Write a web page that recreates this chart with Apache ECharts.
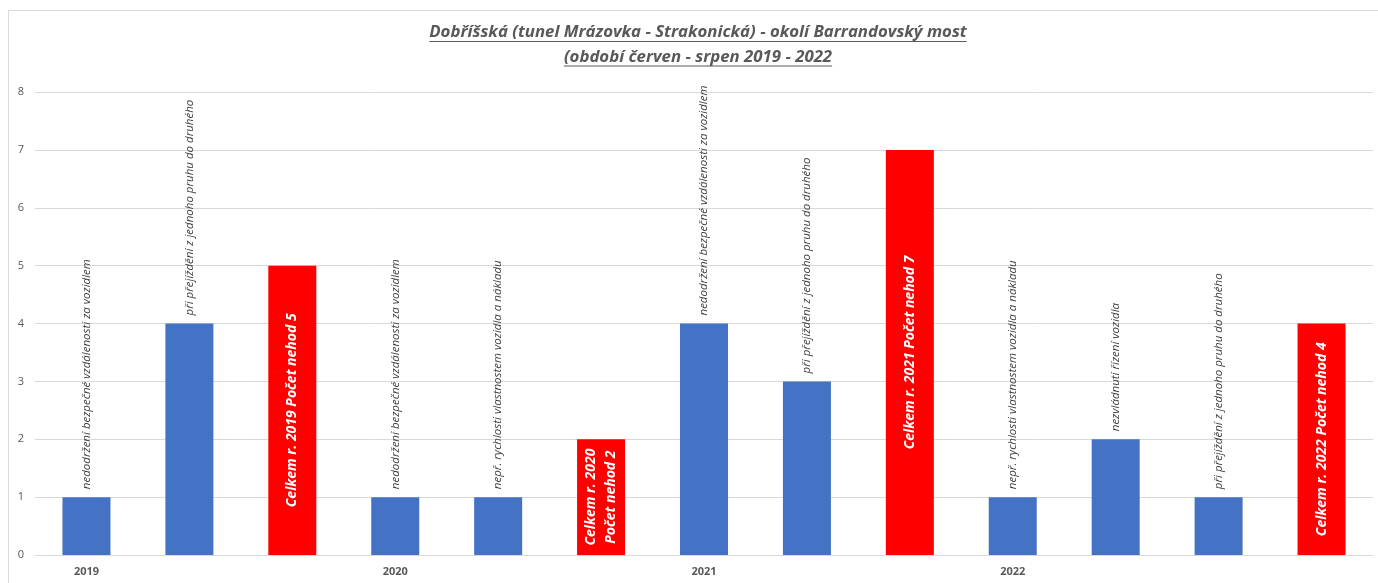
<!DOCTYPE html>
<html>
<head>
<meta charset="utf-8">
<script src="https://cdn.jsdelivr.net/npm/echarts@6/dist/echarts.min.js"></script>
<style>
html,body{margin:0;padding:0;background:#fff;}
#chart{width:1378px;height:583px;}
</style>
</head>
<body>
<div id="chart"></div>
<script>
const titleLines = ['Dobříšská (tunel Mrázovka - Strakonická) - okolí Barrandovský most', '(období červen - srpen 2019 - 2022'];
const yearLabels = ['2019','','','2020','','','2021','','','2022','','',''];
const values = [1,4,5,1,1,2,4,3,7,1,2,1,4];
const isTotal = [false,false,true,false,false,true,false,false,true,false,false,false,true];
const barLabels = [
  'nedodržení bezpečné vzdálenosti za vozidlem',
  'při přejíždění z jednoho pruhu do druhého',
  'Celkem r. 2019 Počet nehod 5',
  'nedodržení bezpečné vzdálenosti za vozidlem',
  'nepř. rychlosti vlastnostem vozidla a nákladu',
  'Celkem r. 2020\nPočet nehod 2',
  'nedodržení bezpečné vzdálenosti za vozidlem',
  'při přejíždění z jednoho pruhu do druhého',
  'Celkem r. 2021 Počet nehod 7',
  'nepř. rychlosti vlastnostem vozidla a nákladu',
  'nezvládnutí řízení vozidla',
  'při přejíždění z jednoho pruhu do druhého',
  'Celkem r. 2022 Počet nehod 4'
];

const FONT = '"Open Sans"';
const titleFontSize = 16.8;
const titleColor = '#595959';

function measure(text, font) {
  const c = document.createElement('canvas').getContext('2d');
  c.font = font;
  return c.measureText(text).width;
}

const chart = echarts.init(document.getElementById('chart'));

const titleCenters = [698, 698];
const titleYs = [32.5, 57];
const graphics = [{
  type: 'rect', silent: true,
  shape: {x: 8.5, y: 10.5, width: 1400, height: 600},
  style: {fill: 'none', stroke: '#d9d9d9', lineWidth: 1}
}];
titleLines.forEach((t, i) => {
  const font = 'italic bold ' + titleFontSize + 'px ' + FONT;
  const w = measure(t, font);
  graphics.push({
    type: 'text', silent: true,
    x: titleCenters[i], y: titleYs[i],
    style: {text: t, fill: titleColor, font: font, textAlign: 'center', textVerticalAlign: 'middle'}
  });
  graphics.push({
    type: 'line', silent: true,
    shape: {x1: titleCenters[i] - w / 2, y1: titleYs[i] + 9, x2: titleCenters[i] + w / 2, y2: titleYs[i] + 9},
    style: {stroke: titleColor, lineWidth: 1}
  });
});

const seriesData = values.map((v, i) => ({
  value: v,
  itemStyle: {color: isTotal[i] ? '#FF0000' : '#4472C4'},
  label: isTotal[i] ? {
    show: true, position: 'inside', rotate: 90, align: 'center', verticalAlign: 'middle',
    formatter: barLabels[i], color: '#ffffff', fontFamily: FONT, fontStyle: 'italic',
    fontWeight: 'bold', fontSize: 14, lineHeight: 20
  } : {
    show: true, position: 'top', rotate: 90, align: 'left', verticalAlign: 'middle', distance: 8,
    formatter: barLabels[i], color: '#404040', fontFamily: FONT, fontStyle: 'italic',
    fontSize: 11.5
  }
}));

chart.setOption({
  animation: false,
  backgroundColor: '#ffffff',
  graphic: graphics,
  grid: {left: 35, right: 5, top: 92, bottom: 28, containLabel: false},
  xAxis: {
    type: 'category',
    data: yearLabels,
    axisLine: {lineStyle: {color: '#d9d9d9'}},
    axisTick: {show: false},
    axisLabel: {interval: 0, color: '#595959', fontFamily: FONT, fontWeight: 'bold', fontSize: 11, margin: 11}
  },
  yAxis: {
    type: 'value', min: 0, max: 8, interval: 1,
    axisLine: {show: false}, axisTick: {show: false},
    axisLabel: {color: '#595959', fontFamily: FONT, fontSize: 11, margin: 11},
    splitLine: {lineStyle: {color: '#d9d9d9'}}
  },
  series: [{
    type: 'bar',
    barWidth: 48,
    data: seriesData
  }]
});
</script>
</body>
</html>
